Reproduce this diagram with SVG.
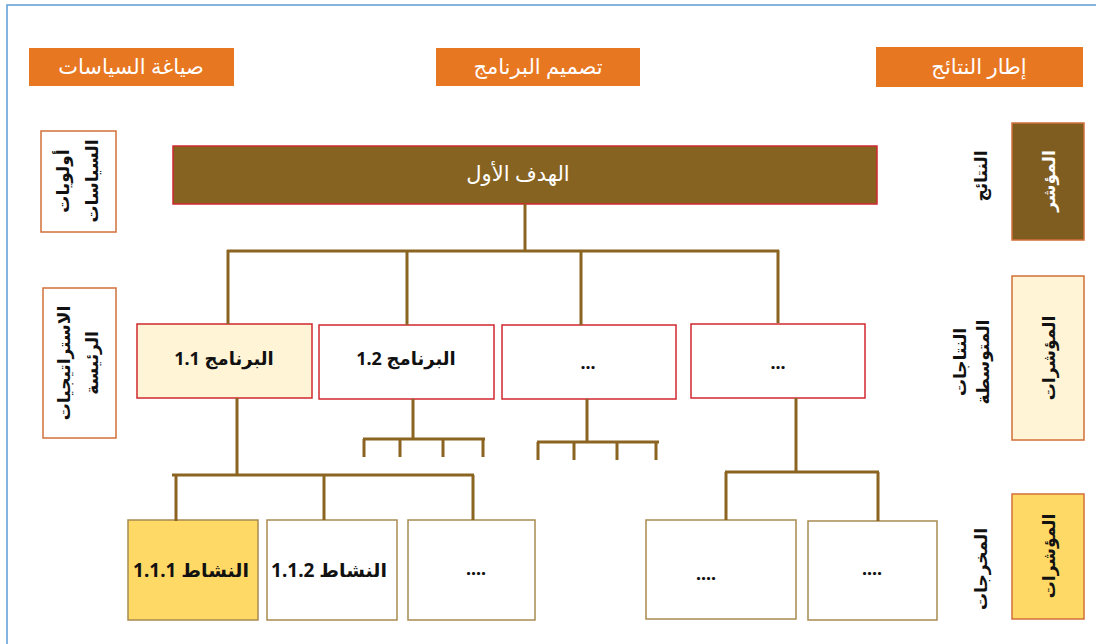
<svg xmlns="http://www.w3.org/2000/svg" width="1096" height="644" viewBox="0 0 1096 644">
<style>
  text { font-family: "Noto Sans", "DejaVu Sans", sans-serif; }
  .hdr { fill: #e87722; }
  .hdrt { fill: #ffffff; font-size: 21px; font-weight: 500; text-anchor: middle; direction: rtl; dominant-baseline: central; }
  .lbl { fill: #111111; font-size: 18px; font-weight: bold; text-anchor: middle; direction: rtl; dominant-baseline: central; }
  .act-t { font-size: 19px; }
  .vlbl { fill: #111111; font-size: 17px; font-weight: bold; text-anchor: middle; direction: rtl; dominant-baseline: central; }
  .side { fill: #ffffff; stroke: #d2703a; stroke-width: 1.5; }
  .prog { stroke: #d0282e; stroke-width: 1.5; }
  .act { stroke: #a88a50; stroke-width: 1.5; }
  .conn path { stroke: #8a6420; stroke-width: 3; fill: none; }
</style>
<rect x="0" y="0" width="1096" height="644" fill="#ffffff"/>
<rect x="7" y="5" width="1100" height="660" fill="none" stroke="#5b9bd5" stroke-width="1.5"/>

<g id="header-policy"><rect class="hdr" x="29" y="48" width="205" height="38"/><text class="hdrt" x="131" y="66">صياغة السياسات</text></g>
<g id="header-program"><rect class="hdr" x="436" y="48" width="204" height="38"/><text class="hdrt" x="538" y="66">تصميم البرنامج</text></g>
<g id="header-results"><rect class="hdr" x="876" y="47" width="207" height="40"/><text class="hdrt" x="979" y="66">إطار النتائج</text></g>

<g id="policy-priorities"><rect class="side" x="41" y="131" width="75" height="101"/>
<text class="vlbl" transform="translate(62,181) rotate(-90)">أولويات</text>
<text class="vlbl" transform="translate(91,181) rotate(-90)">السياسات</text></g>
<g id="main-strategies"><rect class="side" x="43" y="288" width="73" height="150"/>
<text class="vlbl" transform="translate(63,363) rotate(-90)">الاستراتيجيات</text>
<text class="vlbl" transform="translate(91,363) rotate(-90)">الرئيسة</text></g>

<g id="goal"><rect x="173" y="146" width="704" height="58" fill="#866320" stroke="#d0282e" stroke-width="1.5"/>
<text class="hdrt" x="518" y="173">الهدف الأول</text></g>

<g id="prog-1-1"><rect class="prog" x="137" y="324" width="175" height="74" fill="#fff4d6"/><text class="lbl" x="224" y="358">البرنامج 1.1</text></g>
<g id="prog-1-2"><rect class="prog" x="319" y="325" width="175" height="74" fill="#ffffff"/><text class="lbl" x="406" y="358">البرنامج 1.2</text></g>
<g id="prog-3"><rect class="prog" x="502" y="325" width="174" height="74" fill="#ffffff"/><text class="lbl" x="588" y="362">...</text></g>
<g id="prog-4"><rect class="prog" x="691" y="324" width="174" height="74" fill="#ffffff"/><text class="lbl" x="778" y="362">...</text></g>

<g id="act-1-1-1"><rect class="act" x="128" y="520" width="130" height="100" fill="#ffd966"/><text class="lbl act-t" x="191" y="570">النشاط 1.1.1</text></g>
<g id="act-1-1-2"><rect class="act" x="267" y="520" width="130" height="100" fill="#ffffff"/><text class="lbl act-t" x="329" y="570">النشاط 1.1.2</text></g>
<g id="act-3"><rect class="act" x="408" y="520" width="127" height="100" fill="#ffffff"/><text class="lbl" x="476" y="568">....</text></g>
<g id="act-4"><rect class="act" x="646" y="520" width="150" height="99" fill="#ffffff"/><text class="lbl" x="706" y="573">....</text></g>
<g id="act-5"><rect class="act" x="808" y="521" width="129" height="99" fill="#ffffff"/><text class="lbl" x="872" y="568">....</text></g>

<g id="label-outcomes"><text class="vlbl" transform="translate(980,176) rotate(-90)">النتائج</text></g>
<g id="label-intermediate"><text class="vlbl" transform="translate(959,362) rotate(-90)">النتاجات</text><text class="vlbl" transform="translate(982,362) rotate(-90)">المتوسطة</text></g>
<g id="label-outputs"><text class="vlbl" transform="translate(980,569) rotate(-90)">المخرجات</text></g>

<g id="ind-outcome"><rect x="1012" y="123" width="72" height="117" fill="#7f5c1f" stroke="#d2703a" stroke-width="1.5"/><text class="vlbl" style="fill:#ffffff" transform="translate(1048,181) rotate(-90)">المؤشر</text></g>
<g id="ind-intermediate"><rect x="1012" y="276" width="72" height="164" fill="#fff4d6" stroke="#d2703a" stroke-width="1.5"/><text class="vlbl" transform="translate(1048,358) rotate(-90)">المؤشرات</text></g>
<g id="ind-outputs"><rect x="1012" y="494" width="72" height="125" fill="#ffd966" stroke="#d2703a" stroke-width="1.5"/><text class="vlbl" transform="translate(1048,556) rotate(-90)">المؤشرات</text></g>

<g class="conn" id="connectors">
<path d="M525 204 V250"/>
<path d="M227 251 H779"/>
<path d="M228 250 V324 M407 250 V325 M581 250 V325 M778 250 V323"/>
<path d="M237 398 V475 M172 475 H474 M176 475 V521 M324 475 V520 M473 475 V520"/>
<path d="M413 399 V439 M363 439 H485 M364 439 V457 M400 439 V457 M443 439 V457 M483 439 V457"/>
<path d="M587 399 V442 M537 442 H659 M538 442 V460 M574 442 V460 M617 442 V460 M656 442 V460"/>
<path d="M796 398 V472 M725 472 H879 M726 472 V520 M878 472 V521"/>
</g>
</svg>
